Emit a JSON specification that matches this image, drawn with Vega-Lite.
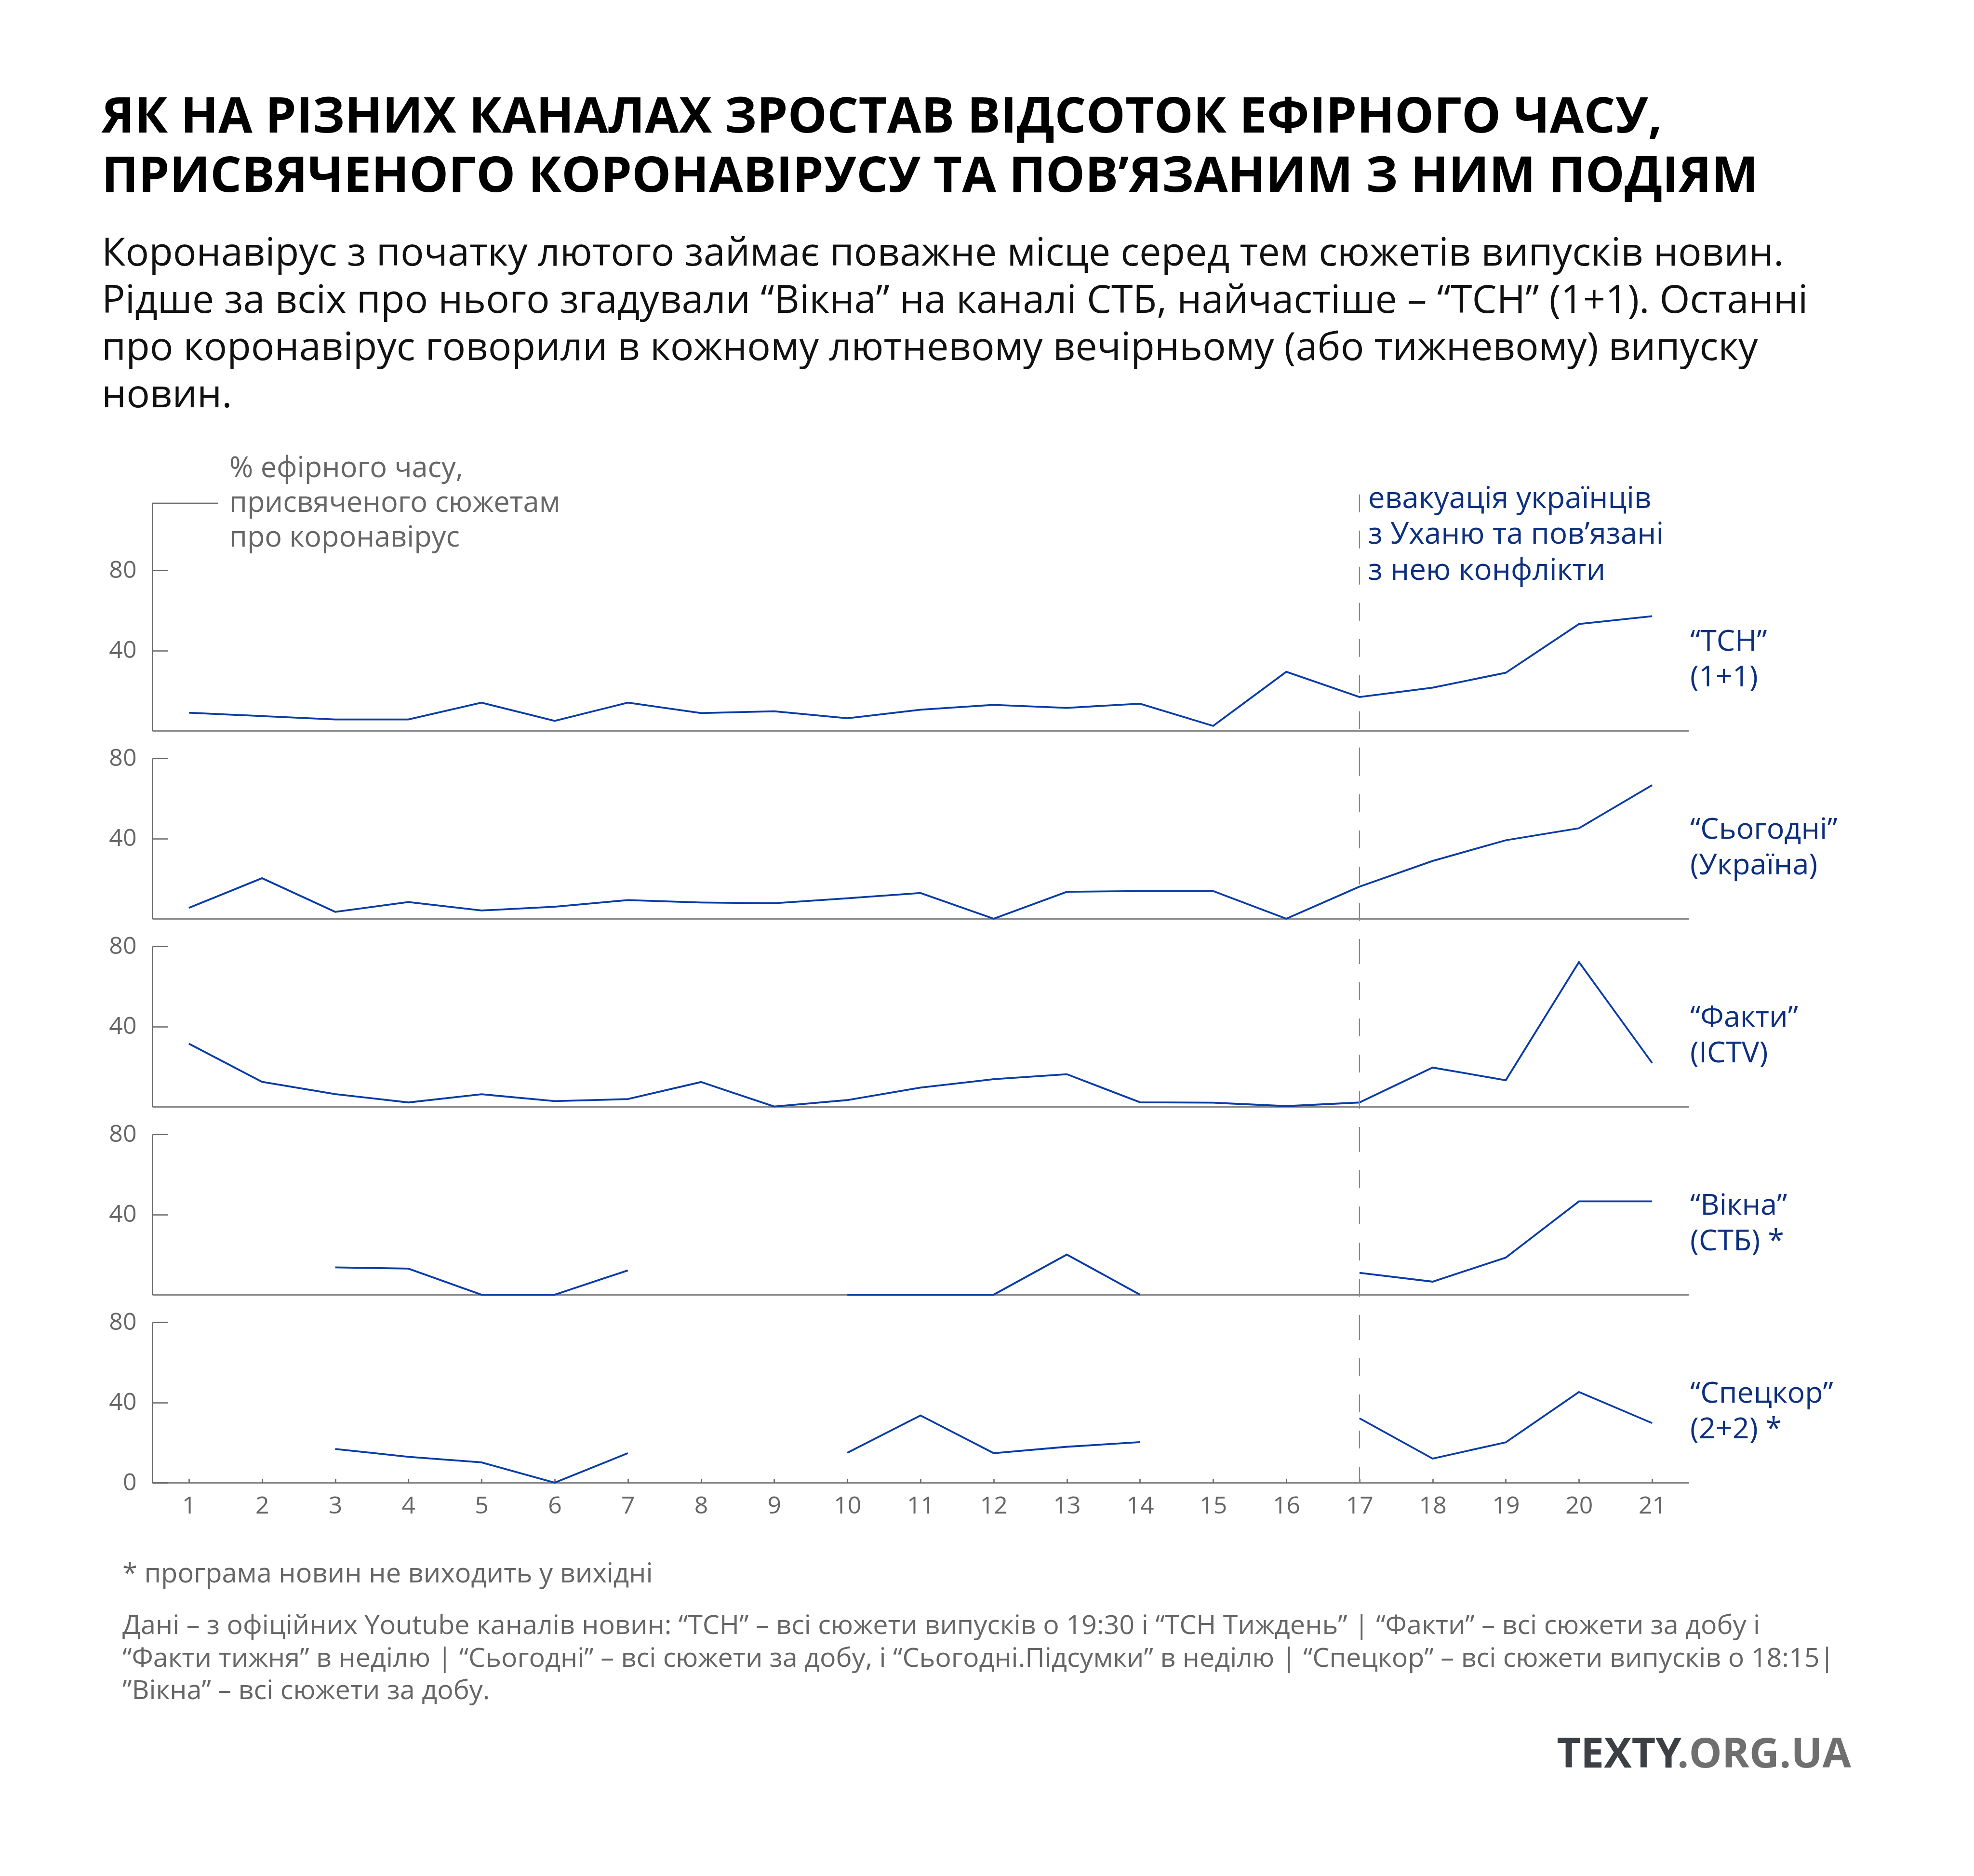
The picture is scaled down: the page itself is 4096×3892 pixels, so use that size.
{
  "$schema": "https://vega.github.io/schema/vega-lite/v6.json",
  "background": "white",
  "padding": {"left": 211, "top": 192, "right": 269, "bottom": 206},
  "config": {
    "font": "Open Sans",
    "view": {"stroke": null},
    "axis": {"grid": false, "domainColor": "#666666", "domainWidth": 2.6, "tickColor": "#666666", "tickWidth": 2.6, "labelColor": "#666666", "labelFont": "Open Sans", "labelFontSize": 50, "labelFlush": false, "labelOverlap": false, "title": null}
  },
  "title": {
    "text": ["ЯК НА РІЗНИХ КАНАЛАХ ЗРОСТАВ ВІДСОТОК ЕФІРНОГО ЧАСУ,", "ПРИСВЯЧЕНОГО КОРОНАВІРУСУ ТА ПОВ’ЯЗАНИМ З НИМ ПОДІЯМ"],
    "subtitle": ["Коронавірус з початку лютого займає поважне місце серед тем сюжетів випусків новин.", "Рідше за всіх про нього згадували “Вікна” на каналі СТБ, найчастіше – “ТСН” (1+1). Останні", "про коронавірус говорили в кожному лютневому вечірньому (або тижневому) випуску", "новин."],
    "anchor": "start",
    "frame": "group",
    "dx": -105,
    "offset": 80,
    "font": "Open Sans",
    "fontSize": 102.5,
    "fontWeight": "bold",
    "lineHeight": 123,
    "color": "#000000",
    "subtitleFont": "Open Sans",
    "subtitleFontSize": 81,
    "subtitleLineHeight": 98,
    "subtitleColor": "#111111",
    "subtitlePadding": 68
  },
  "datasets": {
    "tv": [
      {"channel": "ТСН", "day": 1, "pct": 9.0}, {"channel": "ТСН", "day": 2, "pct": 7.3}, {"channel": "ТСН", "day": 3, "pct": 5.6}, {"channel": "ТСН", "day": 4, "pct": 5.6}, {"channel": "ТСН", "day": 5, "pct": 14.0}, {"channel": "ТСН", "day": 6, "pct": 4.9}, {"channel": "ТСН", "day": 7, "pct": 14.0}, {"channel": "ТСН", "day": 8, "pct": 8.8}, {"channel": "ТСН", "day": 9, "pct": 9.7}, {"channel": "ТСН", "day": 10, "pct": 6.2}, {"channel": "ТСН", "day": 11, "pct": 10.5}, {"channel": "ТСН", "day": 12, "pct": 12.9}, {"channel": "ТСН", "day": 13, "pct": 11.4}, {"channel": "ТСН", "day": 14, "pct": 13.5}, {"channel": "ТСН", "day": 15, "pct": 2.4}, {"channel": "ТСН", "day": 16, "pct": 29.4}, {"channel": "ТСН", "day": 17, "pct": 16.8}, {"channel": "ТСН", "day": 18, "pct": 21.5}, {"channel": "ТСН", "day": 19, "pct": 28.9}, {"channel": "ТСН", "day": 20, "pct": 53.2}, {"channel": "ТСН", "day": 21, "pct": 57.1},
      {"channel": "Сьогодні", "day": 1, "pct": 5.4}, {"channel": "Сьогодні", "day": 2, "pct": 20.2}, {"channel": "Сьогодні", "day": 3, "pct": 3.4}, {"channel": "Сьогодні", "day": 4, "pct": 8.3}, {"channel": "Сьогодні", "day": 5, "pct": 4.1}, {"channel": "Сьогодні", "day": 6, "pct": 6.0}, {"channel": "Сьогодні", "day": 7, "pct": 9.3}, {"channel": "Сьогодні", "day": 8, "pct": 8.1}, {"channel": "Сьогодні", "day": 9, "pct": 7.7}, {"channel": "Сьогодні", "day": 10, "pct": 10.2}, {"channel": "Сьогодні", "day": 11, "pct": 12.8}, {"channel": "Сьогодні", "day": 12, "pct": 0}, {"channel": "Сьогодні", "day": 13, "pct": 13.4}, {"channel": "Сьогодні", "day": 14, "pct": 13.8}, {"channel": "Сьогодні", "day": 15, "pct": 13.8}, {"channel": "Сьогодні", "day": 16, "pct": 0}, {"channel": "Сьогодні", "day": 17, "pct": 16.0}, {"channel": "Сьогодні", "day": 18, "pct": 28.8}, {"channel": "Сьогодні", "day": 19, "pct": 39.1}, {"channel": "Сьогодні", "day": 20, "pct": 45.1}, {"channel": "Сьогодні", "day": 21, "pct": 66.6},
      {"channel": "Факти", "day": 1, "pct": 31.4}, {"channel": "Факти", "day": 2, "pct": 12.4}, {"channel": "Факти", "day": 3, "pct": 6.3}, {"channel": "Факти", "day": 4, "pct": 2.1}, {"channel": "Факти", "day": 5, "pct": 6.2}, {"channel": "Факти", "day": 6, "pct": 2.8}, {"channel": "Факти", "day": 7, "pct": 3.8}, {"channel": "Факти", "day": 8, "pct": 12.3}, {"channel": "Факти", "day": 9, "pct": 0.1}, {"channel": "Факти", "day": 10, "pct": 3.3}, {"channel": "Факти", "day": 11, "pct": 9.5}, {"channel": "Факти", "day": 12, "pct": 13.7}, {"channel": "Факти", "day": 13, "pct": 16.2}, {"channel": "Факти", "day": 14, "pct": 2.2}, {"channel": "Факти", "day": 15, "pct": 2.0}, {"channel": "Факти", "day": 16, "pct": 0.3}, {"channel": "Факти", "day": 17, "pct": 2.1}, {"channel": "Факти", "day": 18, "pct": 19.5}, {"channel": "Факти", "day": 19, "pct": 13.2}, {"channel": "Факти", "day": 20, "pct": 72.1}, {"channel": "Факти", "day": 21, "pct": 21.8},
      {"channel": "Вікна", "day": 1, "pct": null}, {"channel": "Вікна", "day": 2, "pct": null}, {"channel": "Вікна", "day": 3, "pct": 13.6}, {"channel": "Вікна", "day": 4, "pct": 13.0}, {"channel": "Вікна", "day": 5, "pct": 0}, {"channel": "Вікна", "day": 6, "pct": 0}, {"channel": "Вікна", "day": 7, "pct": 12.1}, {"channel": "Вікна", "day": 8, "pct": null}, {"channel": "Вікна", "day": 9, "pct": null}, {"channel": "Вікна", "day": 10, "pct": 0}, {"channel": "Вікна", "day": 11, "pct": 0}, {"channel": "Вікна", "day": 12, "pct": 0}, {"channel": "Вікна", "day": 13, "pct": 20.0}, {"channel": "Вікна", "day": 14, "pct": 0}, {"channel": "Вікна", "day": 15, "pct": null}, {"channel": "Вікна", "day": 16, "pct": null}, {"channel": "Вікна", "day": 17, "pct": 10.9}, {"channel": "Вікна", "day": 18, "pct": 6.5}, {"channel": "Вікна", "day": 19, "pct": 18.5}, {"channel": "Вікна", "day": 20, "pct": 46.5}, {"channel": "Вікна", "day": 21, "pct": 46.5},
      {"channel": "Спецкор", "day": 1, "pct": null}, {"channel": "Спецкор", "day": 2, "pct": null}, {"channel": "Спецкор", "day": 3, "pct": 16.8}, {"channel": "Спецкор", "day": 4, "pct": 12.9}, {"channel": "Спецкор", "day": 5, "pct": 10.1}, {"channel": "Спецкор", "day": 6, "pct": 0}, {"channel": "Спецкор", "day": 7, "pct": 14.7}, {"channel": "Спецкор", "day": 8, "pct": null}, {"channel": "Спецкор", "day": 9, "pct": null}, {"channel": "Спецкор", "day": 10, "pct": 14.9}, {"channel": "Спецкор", "day": 11, "pct": 33.5}, {"channel": "Спецкор", "day": 12, "pct": 14.7}, {"channel": "Спецкор", "day": 13, "pct": 17.9}, {"channel": "Спецкор", "day": 14, "pct": 20.2}, {"channel": "Спецкор", "day": 15, "pct": null}, {"channel": "Спецкор", "day": 16, "pct": null}, {"channel": "Спецкор", "day": 17, "pct": 32.1}, {"channel": "Спецкор", "day": 18, "pct": 12.0}, {"channel": "Спецкор", "day": 19, "pct": 20.1}, {"channel": "Спецкор", "day": 20, "pct": 45.2}, {"channel": "Спецкор", "day": 21, "pct": 29.7}
    ]
  },
  "vconcat": [
    {
      "width": 3188, "height": 472,
      "layer": [
        {
          "data": {"name": "tv"},
          "transform": [{"filter": "datum.channel === 'ТСН'"}],
          "mark": {"type": "line", "color": "#0a3ca8", "strokeWidth": 3.8, "invalid": "break-paths-show-domains"},
          "encoding": {
            "x": {"field": "day", "type": "quantitative", "scale": {"domain": [0.5, 21.5], "nice": false, "zero": false}, "axis": {"ticks": false, "labels": false}},
            "y": {"field": "pct", "type": "quantitative", "scale": {"domain": [0, 113.4], "nice": false, "zero": false}, "axis": {"values": [40, 80], "tickSize": -32, "labelPadding": 65}}
          }
        },
        {
          "data": {"values": [{}]},
          "mark": {"type": "rule", "color": "#6a8bc9", "strokeWidth": 2.2, "strokeDash": [37, 38]},
          "encoding": {"x": {"datum": 17}, "y": {"datum": 117.8}, "y2": {"datum": -13.7}}
        },
        {
          "data": {"values": [{}]},
          "mark": {"type": "rule", "color": "#666666", "strokeWidth": 2.6},
          "encoding": {"x": {"datum": 0.5}, "x2": {"datum": 1.4}, "y": {"datum": 113.4}}
        },
        {
          "data": {"values": [{}]},
          "mark": {"type": "text", "align": "left", "baseline": "alphabetic", "dx": 160, "fontSize": 59.5, "lineHeight": 72, "color": "#666666"},
          "encoding": {"x": {"datum": 0.5}, "y": {"datum": 126.3}, "text": {"value": ["% ефірного часу,", "присвяченого сюжетам", "про коронавірус"]}}
        },
        {
          "data": {"values": [{}]},
          "mark": {"type": "text", "align": "left", "baseline": "alphabetic", "dx": 18, "fontSize": 62, "lineHeight": 74.5, "color": "#0c2f7f"},
          "encoding": {"x": {"datum": 17}, "y": {"datum": 111.0}, "text": {"value": ["евакуація українців", "з Уханю та пов’язані", "з нею конфлікти"]}}
        },
        {
          "data": {"values": [{}]},
          "mark": {"type": "text", "align": "left", "baseline": "alphabetic", "dx": 3, "fontSize": 61, "lineHeight": 74, "color": "#0c2f7f"},
          "encoding": {"x": {"datum": 21.5}, "y": {"datum": 40}, "text": {"value": ["“ТСН”", "(1+1)"]}}
        }
      ]
    },
    {
      "width": 3188, "height": 333,
      "layer": [
        {
          "data": {"name": "tv"},
          "transform": [{"filter": "datum.channel === 'Сьогодні'"}],
          "mark": {"type": "line", "color": "#0a3ca8", "strokeWidth": 3.8, "invalid": "break-paths-show-domains"},
          "encoding": {
            "x": {"field": "day", "type": "quantitative", "scale": {"domain": [0.5, 21.5], "nice": false, "zero": false}, "axis": {"ticks": false, "labels": false}},
            "y": {"field": "pct", "type": "quantitative", "scale": {"domain": [0, 80], "nice": false, "zero": false}, "axis": {"values": [40, 80], "tickSize": -32, "labelPadding": 65}}
          }
        },
        {
          "data": {"values": [{}]},
          "mark": {"type": "rule", "color": "#6a8bc9", "strokeWidth": 2.2, "strokeDash": [37, 38]},
          "encoding": {"x": {"datum": 17}, "y": {"datum": 80}, "y2": {"datum": -13.7}}
        },
        {
          "data": {"values": [{}]},
          "mark": {"type": "text", "align": "left", "baseline": "alphabetic", "dx": 3, "fontSize": 61, "lineHeight": 74, "color": "#0c2f7f"},
          "encoding": {"x": {"datum": 21.5}, "y": {"datum": 40}, "text": {"value": ["“Сьогодні”", "(Україна)"]}}
        }
      ]
    },
    {
      "width": 3188, "height": 333,
      "layer": [
        {
          "data": {"name": "tv"},
          "transform": [{"filter": "datum.channel === 'Факти'"}],
          "mark": {"type": "line", "color": "#0a3ca8", "strokeWidth": 3.8, "invalid": "break-paths-show-domains"},
          "encoding": {
            "x": {"field": "day", "type": "quantitative", "scale": {"domain": [0.5, 21.5], "nice": false, "zero": false}, "axis": {"ticks": false, "labels": false}},
            "y": {"field": "pct", "type": "quantitative", "scale": {"domain": [0, 80], "nice": false, "zero": false}, "axis": {"values": [40, 80], "tickSize": -32, "labelPadding": 65}}
          }
        },
        {
          "data": {"values": [{}]},
          "mark": {"type": "rule", "color": "#6a8bc9", "strokeWidth": 2.2, "strokeDash": [37, 38]},
          "encoding": {"x": {"datum": 17}, "y": {"datum": 80}, "y2": {"datum": -13.7}}
        },
        {
          "data": {"values": [{}]},
          "mark": {"type": "text", "align": "left", "baseline": "alphabetic", "dx": 3, "fontSize": 61, "lineHeight": 74, "color": "#0c2f7f"},
          "encoding": {"x": {"datum": 21.5}, "y": {"datum": 40}, "text": {"value": ["“Факти”", "(ICTV)"]}}
        }
      ]
    },
    {
      "width": 3188, "height": 333,
      "layer": [
        {
          "data": {"name": "tv"},
          "transform": [{"filter": "datum.channel === 'Вікна'"}],
          "mark": {"type": "line", "color": "#0a3ca8", "strokeWidth": 3.8, "invalid": "break-paths-show-domains"},
          "encoding": {
            "x": {"field": "day", "type": "quantitative", "scale": {"domain": [0.5, 21.5], "nice": false, "zero": false}, "axis": {"ticks": false, "labels": false}},
            "y": {"field": "pct", "type": "quantitative", "scale": {"domain": [0, 80], "nice": false, "zero": false}, "axis": {"values": [40, 80], "tickSize": -32, "labelPadding": 65}}
          }
        },
        {
          "data": {"values": [{}]},
          "mark": {"type": "rule", "color": "#6a8bc9", "strokeWidth": 2.2, "strokeDash": [37, 38]},
          "encoding": {"x": {"datum": 17}, "y": {"datum": 80}, "y2": {"datum": -13.7}}
        },
        {
          "data": {"values": [{}]},
          "mark": {"type": "text", "align": "left", "baseline": "alphabetic", "dx": 3, "fontSize": 61, "lineHeight": 74, "color": "#0c2f7f"},
          "encoding": {"x": {"datum": 21.5}, "y": {"datum": 40}, "text": {"value": ["“Вікна”", "(СТБ) *"]}}
        }
      ]
    },
    {
      "width": 3188, "height": 333,
      "layer": [
        {
          "data": {"name": "tv"},
          "transform": [{"filter": "datum.channel === 'Спецкор'"}],
          "mark": {"type": "line", "color": "#0a3ca8", "strokeWidth": 3.8, "invalid": "break-paths-show-domains"},
          "encoding": {
            "x": {"field": "day", "type": "quantitative", "scale": {"domain": [0.5, 21.5], "nice": false, "zero": false}, "axis": {"values": [1, 2, 3, 4, 5, 6, 7, 8, 9, 10, 11, 12, 13, 14, 15, 16, 17, 18, 19, 20, 21], "format": "d", "tickSize": -8.6, "labelPadding": 31.6}},
            "y": {"field": "pct", "type": "quantitative", "scale": {"domain": [0, 80], "nice": false, "zero": false}, "axis": {"values": [0, 40, 80], "tickSize": -32, "labelPadding": 65}}
          }
        },
        {
          "data": {"values": [{}]},
          "mark": {"type": "rule", "color": "#6a8bc9", "strokeWidth": 2.2, "strokeDash": [37, 38]},
          "encoding": {"x": {"datum": 17}, "y": {"datum": 80}, "y2": {"datum": 0}}
        },
        {
          "data": {"values": [{}]},
          "mark": {"type": "text", "align": "left", "baseline": "alphabetic", "dx": 3, "fontSize": 61, "lineHeight": 74, "color": "#0c2f7f"},
          "encoding": {"x": {"datum": 21.5}, "y": {"datum": 40}, "text": {"value": ["“Спецкор”", "(2+2) *"]}}
        },
        {
          "data": {"values": [{}]},
          "mark": {"type": "text", "align": "left", "baseline": "alphabetic", "dx": -62, "fontSize": 56, "color": "#666666"},
          "encoding": {"x": {"datum": 0.5}, "y": {"datum": -49.8}, "text": {"value": "* програма новин не виходить у вихідні"}}
        },
        {
          "data": {"values": [{}]},
          "mark": {"type": "text", "align": "left", "baseline": "alphabetic", "dx": -62, "fontSize": 55.7, "lineHeight": 67.4, "color": "#666666"},
          "encoding": {"x": {"datum": 0.5}, "y": {"datum": -75.5}, "text": {"value": ["Дані – з офіційних Youtube каналів новин: “ТСН” – всі сюжети випусків о 19:30 і “ТСН Тиждень” | “Факти” – всі сюжети за добу і", "“Факти тижня” в неділю | “Сьогодні” – всі сюжети за добу, і “Сьогодні.Підсумки” в неділю | “Спецкор” – всі сюжети випусків о 18:15|", "”Вікна” – всі сюжети за добу."]}}
        },
        {
          "data": {"values": [{}]},
          "mark": {"type": "text", "align": "right", "baseline": "alphabetic", "dx": -15, "fontSize": 86, "fontWeight": "bold", "color": "#3c3f44"},
          "encoding": {"x": {"datum": 21.5}, "y": {"datum": -141.9}, "text": {"value": "TEXTY"}}
        },
        {
          "data": {"values": [{}]},
          "mark": {"type": "text", "align": "left", "baseline": "alphabetic", "dx": -24, "fontSize": 86, "fontWeight": "bold", "color": "#6f6f6f"},
          "encoding": {"x": {"datum": 21.5}, "y": {"datum": -141.9}, "text": {"value": ".ORG.UA"}}
        }
      ]
    }
  ],
  "spacing": 57,
  "bounds": "flush"
}
